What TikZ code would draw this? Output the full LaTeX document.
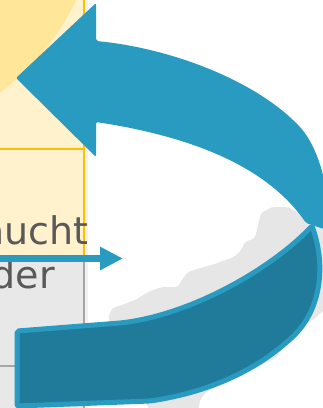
\documentclass[tikz,border=0pt]{standalone}
\usepackage{fontspec}
\setmainfont{DejaVu Sans}
\usetikzlibrary{arrows.meta}

\definecolor{arrowblue}{RGB}{42,155,192}
\definecolor{arrowdark}{RGB}{31,123,153}
\definecolor{cellyellow}{RGB}{255,242,204}
\definecolor{lineyellow}{RGB}{255,192,0}
\definecolor{sunyellow}{RGB}{255,230,153}
\definecolor{cellgray}{RGB}{232,232,232}
\definecolor{linegray}{RGB}{166,166,166}
\definecolor{shadowgray}{RGB}{230,230,230}
\definecolor{textgray}{RGB}{89,89,89}

\begin{document}
\begin{tikzpicture}[x=1pt,y=-1pt,
    celltext/.style={text=textgray,inner sep=0pt,font=\fontsize{38}{46}\selectfont},
    yline/.style={lineyellow,line width=2},
    gline/.style={linegray,line width=2},
    darkband/.style={fill=arrowdark,draw=arrowblue,line width=5,rounded corners=2}]
  \useasboundingbox (0,0) rectangle (323,408);
  \clip (0,0) rectangle (323,408);

  % table cells
  \fill[cellyellow] (0,0) rectangle (84,257);
  \fill[cellgray] (0,257) rectangle (84,408);
  \fill[sunyellow] (-140,-100) circle[radius=238];
  \draw[black!5,line width=2.5] (86.5,0) -- (86.5,408);
  \draw[yline] (0,149) -- (84,149);
  \draw[yline] (84,0) -- (84,257);
  \draw[gline] (84,257) -- (84,408);
  \draw[gline] (0,366) -- (84,366);

  \node[celltext,anchor=base east] (braucht) at (89,244) {aucht};
  \node[celltext,anchor=base east] (oder) at (55,288) {der};

  \coordinate (pstart) at (0,258.5);
  \coordinate (pend) at (123,258.5);
  \draw[arrowblue,line width=7,-{Triangle[length=23pt,width=22pt]}] (pstart) -- (pend);

  % shadow behind the turn
  \fill[shadowgray,rounded corners=3] (108,318) -- (112,308) -- (122,305) -- (135,300)
    -- (150,291) -- (162,287) -- (178,287) -- (183,278) -- (188,272) -- (200,268)
    -- (215,264) -- (222,261) -- (232,258) -- (240,252) -- (245,242) -- (255,238)
    -- (258,225) -- (261,213) -- (272,207) -- (288,207) -- (297,212) -- (310,222)
    -- (335,230) -- (335,300) -- (313,320) -- (300,327) -- (290,340) -- (281,350)
    -- (276,358) -- (257,367) -- (237,373) -- (223,378) -- (217,387) -- (207,391)
    -- (200,400) -- (198,412) -- (150,412) -- cycle;

  % curved arrow
  \filldraw[darkband] (17,331) -- (120,323) .. controls (190,315) and (270,270) .. (312,226)
    .. controls (326,265) and (322,312) .. (288,341)
    .. controls (255,370) and (210,392) .. (150,401) -- (17,406) -- cycle;
  \fill[arrowblue,rounded corners=2] (16,78) -- (96,3) -- (96,41)
    .. controls (170,48) and (255,80) .. (300,127)
    .. controls (318,148) and (329,185) .. (330,231) -- (306,223)
    .. controls (268,168) and (195,137) .. (96,122) -- (96,157) -- cycle;
\end{tikzpicture}
\end{document}
